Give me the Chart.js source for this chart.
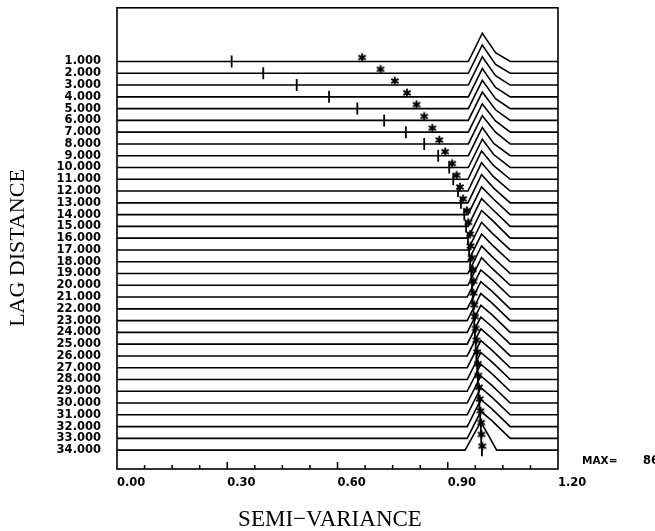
<!DOCTYPE html>
<html>
<head>
<meta charset="utf-8">
<style>
  html, body { margin: 0; padding: 0; background: #fff; }
  canvas { display: block; }
</style>
<script src="https://cdn.jsdelivr.net/npm/chart.js@4.4.1/dist/chart.umd.min.js"></script>
</head>
<body>
<canvas id="chart" width="655" height="531"></canvas>
<script>
// lag rows and their labels
const lags = [1, 2, 3, 4, 5, 6, 7, 8, 9, 10, 11, 12, 13, 14, 15, 16, 17,
  18, 19, 20, 21, 22, 23, 24, 25, 26, 27, 28, 29, 30, 31, 32, 33, 34];
const lagLabels = lags.map(v => v.toFixed(3));

// x ticks (labelled) and the small inward marks on the bottom axis
const xTicks = [0.00, 0.30, 0.60, 0.90, 1.20];
const minorTicks = [0.075, 0.15, 0.225, 0.375, 0.45, 0.525, 0.675, 0.75, 0.825, 0.975, 1.05, 1.125];

// '|' marks and '*' marks, one per lag
const plusX = [0.312, 0.398, 0.489, 0.577, 0.654, 0.727, 0.786, 0.836, 0.874, 0.904,
  0.915, 0.928, 0.936, 0.945, 0.950, 0.955, 0.958, 0.961, 0.964, 0.966,
  0.968, 0.970, 0.972, 0.974, 0.976, 0.978, 0.980, 0.982, 0.984, 0.986,
  0.988, 0.990, 0.991, 0.993];
const starX = [0.667, 0.717, 0.756, 0.789, 0.815, 0.836, 0.858, 0.877, 0.893, 0.912,
  0.924, 0.933, 0.942, 0.952, 0.956, 0.961, 0.962, 0.965, 0.968, 0.970,
  0.970, 0.972, 0.974, 0.976, 0.978, 0.980, 0.982, 0.983, 0.985, 0.987,
  0.989, 0.991, 0.992, 0.994];

// per-lag distribution curve: foot, peak, knee, end (x) and heights above the row
const footX = [0.956, 0.956, 0.956, 0.956, 0.956, 0.956, 0.956, 0.956, 0.956, 0.956,
  0.955, 0.955, 0.955, 0.955, 0.955, 0.955, 0.955, 0.955, 0.955, 0.955,
  0.953, 0.953, 0.953, 0.953, 0.953, 0.953, 0.953, 0.953, 0.953, 0.953,
  0.953, 0.953, 0.953, 0.947];
const peakX = [0.994, 0.994, 0.994, 0.994, 0.994, 0.994, 0.994, 0.994, 0.994, 0.994,
  0.992, 0.992, 0.992, 0.992, 0.992, 0.992, 0.992, 0.992, 0.992, 0.992,
  0.990, 0.990, 0.990, 0.990, 0.990, 0.990, 0.990, 0.990, 0.990, 0.990,
  0.990, 0.990, 0.990, 0.990];
const peakH = [2.4, 2.4, 2.4, 2.4, 2.4, 2.4, 2.4, 2.4, 2.4, 2.4,
  2.4, 2.4, 2.4, 2.35, 2.35, 2.35, 2.35, 2.35, 2.35, 2.35,
  2.3, 2.3, 2.3, 2.3, 2.3, 2.3, 2.3, 2.3, 2.3, 2.3,
  2.3, 2.3, 2.3, 2.4];
const kneeX = [1.030, 1.030, 1.030, 1.030, 1.030, 1.030, 1.030, 1.030, 1.025, 1.025,
  1.025, 1.025, 1.025, 1.025, 1.025, 1.025, 1.020, 1.020, 1.020, 1.020,
  1.020, 1.020, 1.020, 1.020, 1.020, 1.020, 1.020, 1.020, 1.020, 1.020,
  1.020, 1.020, 1.020, 1.012];
const kneeH = [0.75, 0.75, 0.8, 0.8, 0.85, 0.9, 0.95, 1.0, 1.05, 1.1,
  1.15, 1.2, 1.25, 1.3, 1.35, 1.4, 1.45, 1.45, 1.45, 1.45,
  1.5, 1.5, 1.5, 1.5, 1.5, 1.5, 1.5, 1.5, 1.5, 1.5,
  1.5, 1.5, 1.5, 1.2];
const endX = [1.07, 1.07, 1.07, 1.07, 1.07, 1.07, 1.07, 1.07, 1.07, 1.07,
  1.07, 1.07, 1.07, 1.07, 1.07, 1.07, 1.07, 1.07, 1.07, 1.07,
  1.07, 1.07, 1.07, 1.07, 1.07, 1.07, 1.07, 1.07, 1.07, 1.07,
  1.07, 1.07, 1.07, 1.033];

const X_MIN = 0, X_MAX = 1.2;
const tickFont = { family: 'DejaVu Sans', weight: 'bold', size: 11.5 };

// asterisk glyph sitting a little above its point
function makeStar() {
  const c = document.createElement('canvas');
  c.width = 12; c.height = 20;
  const g = c.getContext('2d');
  g.strokeStyle = '#000';
  g.lineWidth = 1.8;
  const cx = 6, cy = 6, r = 4.2;
  g.beginPath();
  for (let k = 0; k < 3; k++) {
    const a = Math.PI / 2 + k * Math.PI / 3;
    g.moveTo(cx + r * Math.cos(a), cy + r * Math.sin(a));
    g.lineTo(cx - r * Math.cos(a), cy - r * Math.sin(a));
  }
  g.stroke();
  return c;
}

const datasets = lags.map((lag, i) => ({
  data: [
    { x: X_MIN, y: lag },
    { x: footX[i], y: lag },
    { x: peakX[i], y: lag - peakH[i] },
    { x: kneeX[i], y: lag - kneeH[i] },
    { x: endX[i], y: lag },
    { x: X_MAX, y: lag }
  ],
  borderColor: '#000',
  borderWidth: 1.6,
  backgroundColor: '#fff',
  fill: { value: lag },
  pointRadius: 0,
  tension: 0,
  order: 100 - lag
}));

datasets.push({
  data: lags.map((lag, i) => ({ x: plusX[i], y: lag })),
  showLine: false,
  pointStyle: 'line',
  rotation: 90,
  pointRadius: 6,
  borderColor: '#000',
  borderWidth: 1.8,
  order: 1
});
datasets.push({
  data: lags.map((lag, i) => ({ x: starX[i], y: lag })),
  showLine: false,
  pointStyle: makeStar(),
  pointRadius: 6,
  order: 0
});

const framePlugin = {
  id: 'frame',
  afterDraw(chart) {
    const { ctx, chartArea: a, scales } = chart;
    ctx.save();
    ctx.strokeStyle = '#000';
    ctx.lineWidth = 1.6;
    ctx.strokeRect(a.left, a.top, a.right - a.left, a.bottom - a.top);

    // inward tick marks on the bottom axis
    ctx.lineWidth = 1.5;
    ctx.beginPath();
    minorTicks.forEach(v => {
      const px = scales.x.getPixelForValue(v);
      ctx.moveTo(px, a.bottom);
      ctx.lineTo(px, a.bottom - 4);
    });
    xTicks.slice(1, -1).forEach(v => {
      const px = scales.x.getPixelForValue(v);
      ctx.moveTo(px, a.bottom);
      ctx.lineTo(px, a.bottom - 7);
    });
    ctx.stroke();

    ctx.fillStyle = '#000';
    ctx.textBaseline = 'middle';
    ctx.textAlign = 'center';
    ctx.font = '23px "Liberation Serif"';
    ctx.fillText('SEMI\u2212VARIANCE', 330, 520);

    ctx.save();
    ctx.translate(18, 248);
    ctx.rotate(-Math.PI / 2);
    ctx.font = '22px "Liberation Serif"';
    ctx.fillText('LAG DISTANCE', 0, 0);
    ctx.restore();

    ctx.textAlign = 'left';
    ctx.font = 'bold 10.5px "DejaVu Sans"';
    ctx.fillText('MAX=', 582, 461);
    ctx.font = 'bold 11.5px "DejaVu Sans"';
    ctx.fillText('86', 643, 461);
    ctx.restore();
  }
};

new Chart(document.getElementById('chart'), {
  type: 'line',
  data: { datasets },
  options: {
    responsive: false,
    animation: false,
    events: [],
    layout: { padding: { top: 5, right: 97, left: 0, bottom: 0 } },
    plugins: {
      legend: { display: false },
      tooltip: { enabled: false },
      filler: { drawTime: 'beforeDatasetDraw' }
    },
    scales: {
      x: {
        type: 'linear',
        min: X_MIN,
        max: X_MAX,
        afterBuildTicks: s => { s.ticks = xTicks.map(v => ({ value: v })); },
        afterFit: s => { s.height = 62; s.paddingLeft = 0; s.paddingRight = 0; },
        ticks: {
          callback: v => v.toFixed(2),
          font: tickFont,
          color: '#000',
          align: 'start',
          padding: 7,
          maxRotation: 0,
          autoSkip: false
        },
        grid: { display: false, drawTicks: false },
        border: { display: false }
      },
      y: {
        type: 'linear',
        reverse: true,
        min: -3.56,
        max: 35.6,
        afterBuildTicks: s => { s.ticks = lags.map(v => ({ value: v })); },
        afterFit: s => { s.width = 117; s.paddingTop = 0; s.paddingBottom = 0; },
        ticks: {
          callback: (v, i) => lagLabels[i],
          font: tickFont,
          color: '#000',
          padding: 16,
          autoSkip: false
        },
        grid: { display: false, drawTicks: false },
        border: { display: false }
      }
    }
  },
  plugins: [framePlugin]
});
</script>
</body>
</html>
